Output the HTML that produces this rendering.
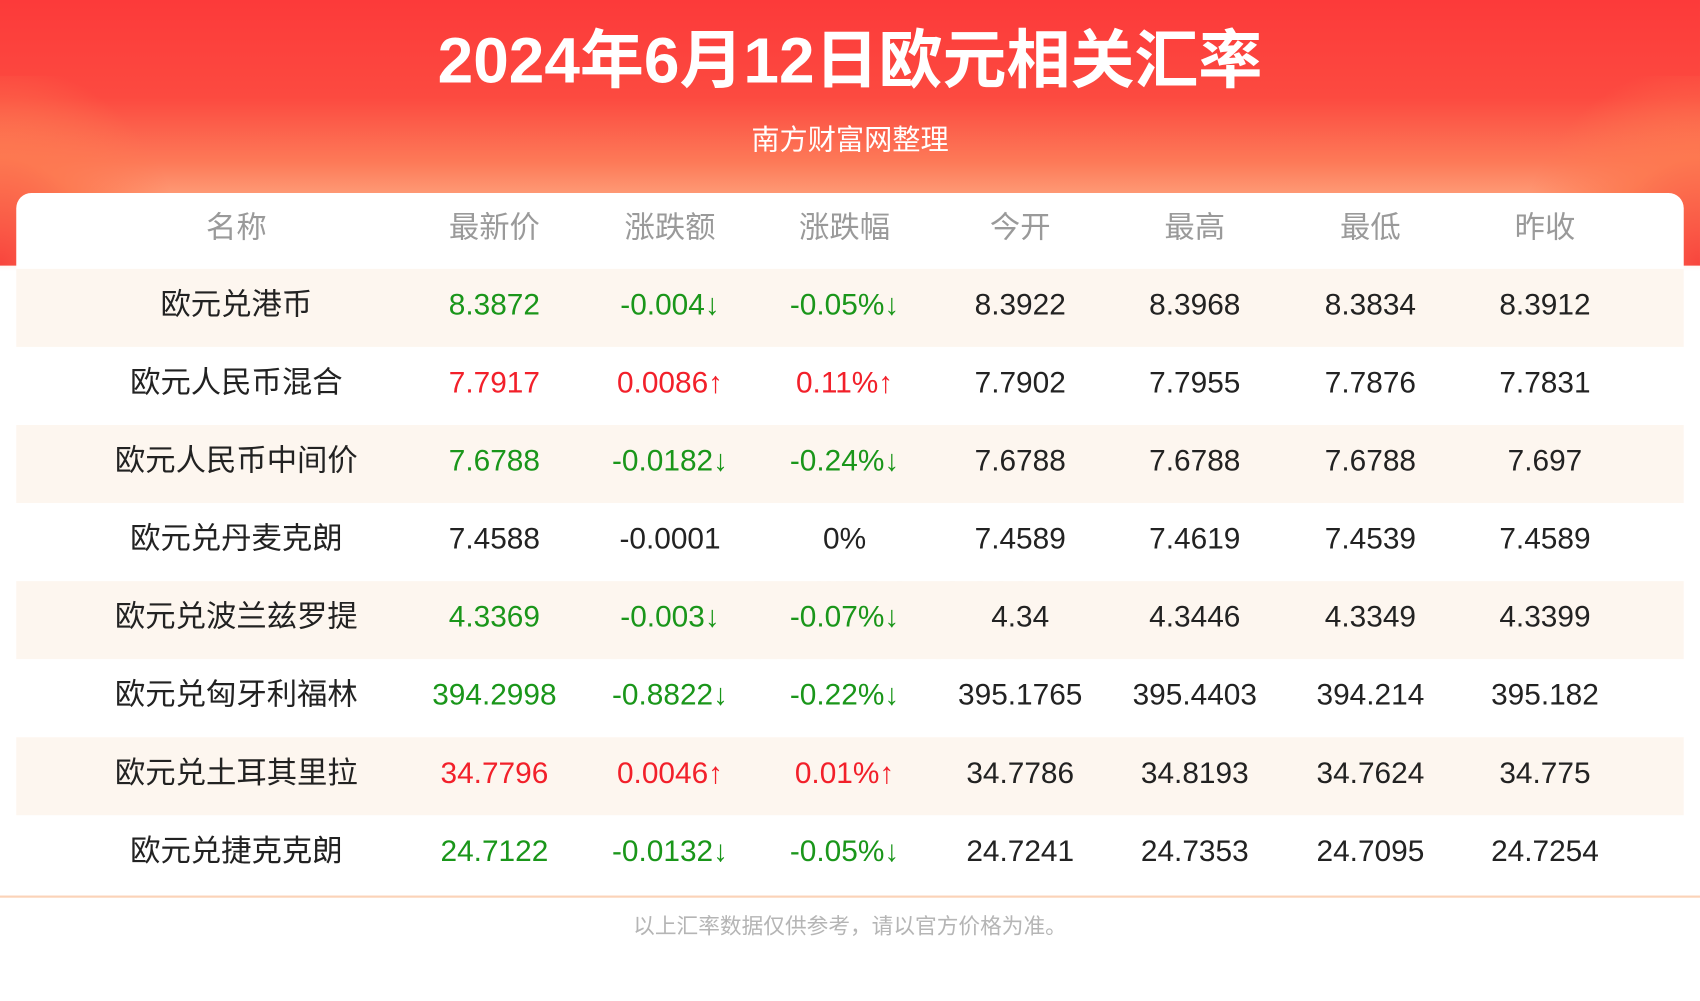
<!DOCTYPE html>
<html><head><meta charset="utf-8"><style>
html,body{margin:0;padding:0;width:1700px;height:1000px;overflow:hidden;background:#fff}
#s{position:absolute;left:0;top:0;width:1568px;height:923px;transform:scale(1.08418);transform-origin:0 0;font-family:"Liberation Sans","Noto Sans CJK SC",sans-serif;overflow:hidden;
background:linear-gradient(180deg,#fc3a3a 0px,#fc4a40 90px,#fd7a58 150px,#feb08a 200px,#fff 250px)}
.side{position:absolute;top:70px;height:175px;width:160px;background:radial-gradient(ellipse at 0% 100%,#f8443c 0%,rgba(253,120,80,0.9) 40%,rgba(253,150,100,0) 75%)}
.t{position:absolute;left:0;width:1568px;text-align:center;color:#fff}
.card{position:absolute;left:15px;top:178px;width:1538px;height:650px;background:#fff;border-radius:14px 14px 0 0}
.row{position:absolute;left:15px;width:1538px;height:72px}
.c{position:absolute;width:300px;margin-left:-150px;text-align:center;font-size:27.5px;line-height:66px;color:#222;white-space:nowrap}
.n{font-size:28px}
.g{color:#1a961a}.r{color:#f2202a}.h{color:#9a9a9a;font-size:28px}
</style></head><body><div id="s">
<div class="side" style="left:0"></div><div class="side" style="right:0;transform:scaleX(-1)"></div>
<div class="t" style="top:21px;font-size:59px;font-weight:bold;line-height:70px">2024年6月12日欧元相关汇率</div>
<div class="t" style="top:111px;font-size:26px;line-height:36px">南方财富网整理</div>
<div class="card"></div>
<div style="position:absolute;left:0;top:826px;width:1568px;height:2px;background:#fbd3b8"></div>
<div style="position:absolute;left:0;top:838px;width:1568px;text-align:center;font-size:20px;line-height:34px;color:#b5b5b5">以上汇率数据仅供参考，请以官方价格为准。</div>
<div style="position:absolute;left:600px;top:500px;font-size:64px;color:rgba(200,180,170,0.15);letter-spacing:10px">南方财富网</div>
<div style="position:absolute;left:560px;top:575px;font-size:60px;font-style:italic;font-family:'Liberation Serif',serif;color:rgba(200,180,170,0.15)">southmoney.com</div>
<div id="tb"></div>
</div>
<script>
var xs=[218,456,618,779,941,1102,1264,1425];
var H=["名称","最新价","涨跌额","涨跌幅","今开","最高","最低","昨收"];
var D=[
["欧元兑港币","8.3872","-0.004↓","-0.05%↓","8.3922","8.3968","8.3834","8.3912","g"],
["欧元人民币混合","7.7917","0.0086↑","0.11%↑","7.7902","7.7955","7.7876","7.7831","r"],
["欧元人民币中间价","7.6788","-0.0182↓","-0.24%↓","7.6788","7.6788","7.6788","7.697","g"],
["欧元兑丹麦克朗","7.4588","-0.0001","0%","7.4589","7.4619","7.4539","7.4589",""],
["欧元兑波兰兹罗提","4.3369","-0.003↓","-0.07%↓","4.34","4.3446","4.3349","4.3399","g"],
["欧元兑匈牙利福林","394.2998","-0.8822↓","-0.22%↓","395.1765","395.4403","394.214","395.182","g"],
["欧元兑土耳其里拉","34.7796","0.0046↑","0.01%↑","34.7786","34.8193","34.7624","34.775","r"],
["欧元兑捷克克朗","24.7122","-0.0132↓","-0.05%↓","24.7241","24.7353","24.7095","24.7254","g"]];
var h='';
H.forEach(function(t,i){h+='<div class="c h" style="left:'+xs[i]+'px;top:177px">'+t+'</div>'});
D.forEach(function(r,k){var y=248+72*k;
h+='<div class="row" style="top:'+y+'px;background:'+(k%2==0?'#fdf6ef':'#fff')+'"></div>';
for(var i=0;i<8;i++){var cl=(i>=1&&i<=3)?r[8]:(i==0?'n':'');h+='<div class="c '+cl+'" style="left:'+xs[i]+'px;top:'+y+'px">'+r[i]+'</div>';}});
document.getElementById('tb').innerHTML=h;
</script></body></html>
